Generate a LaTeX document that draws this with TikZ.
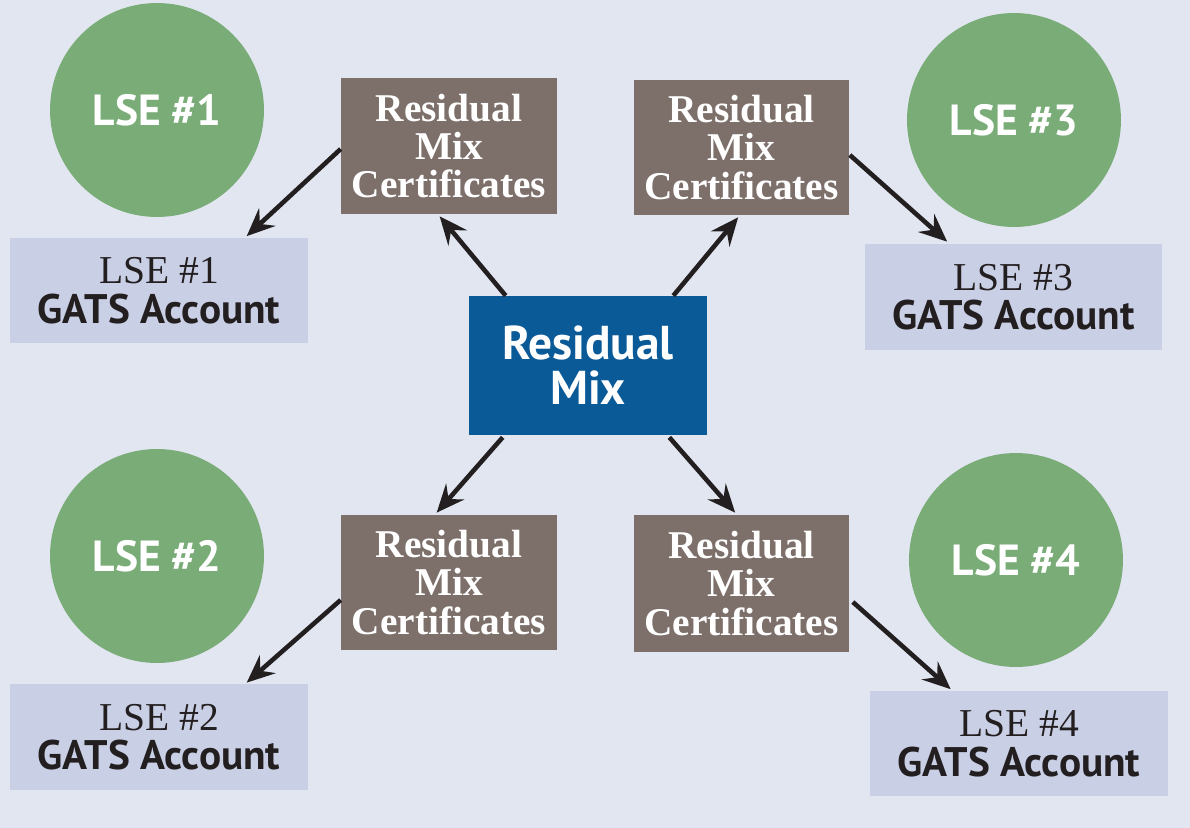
\documentclass[tikz,border=0pt]{standalone}
\usepackage{fontspec}
\setmainfont{Liberation Serif}
\setsansfont{PT Sans}
\usetikzlibrary{calc,arrows.meta}
\definecolor{bgcol}{HTML}{E2E6F1}
\definecolor{lsegreen}{HTML}{79AC77}
\definecolor{certbrown}{HTML}{7D706B}
\definecolor{mixblue}{HTML}{0B5A98}
\definecolor{acctcol}{HTML}{C9CFE5}
\definecolor{inkcol}{HTML}{231F20}
\newcommand{\gatsfont}{\fontsize{23.5}{22.5}\selectfont\sffamily\bfseries}
\begin{document}
\begin{tikzpicture}[x=0.02cm,y=-0.02cm]
\tikzset{lse/.style = {shape=circle,fill=lsegreen,text=white,inner sep=0pt,minimum size=4.28cm,
  font=\fontsize{24.8}{27}\selectfont\sffamily\bfseries}}
\tikzset{certbox/.style = {rectangle,fill=certbrown,text=white,inner sep=0pt,align=center,
  minimum width=4.32cm,minimum height=2.72cm,font=\fontsize{22.4}{21.8}\selectfont\bfseries}}
\tikzset{mixbox/.style = {rectangle,fill=mixblue,text=white,inner sep=0pt,align=center,
  minimum width=4.76cm,minimum height=2.78cm,font=\fontsize{27}{25.5}\selectfont\sffamily\bfseries}}
\tikzset{account/.style = {rectangle,fill=acctcol,text=inkcol,inner sep=0pt,align=center,
  minimum width=5.96cm,minimum height=2.12cm,font=\fontsize{22.5}{22.5}\selectfont}}
\tikzset{edge/.style = {-{Stealth[length=0.56cm,width=0.48cm,inset=0.2cm]},line width=2.6pt,draw=inkcol}}
\fill[bgcol] (0,0) rectangle (1190,828);
\useasboundingbox (0,0) rectangle (1190,828);
% entities
\node[lse] (c1) at (157,110) {LSE \#1};
\node[lse] (c3) at (1014,120) {LSE \#3};
\node[lse] (c2) at (157,556) {LSE \#2};
\node[lse] (c4) at (1016,560) {LSE \#4};
% certificates
\node[certbox] (r1) at (449,146) {Residual\\Mix\\Certificates};
\node[certbox,minimum height=2.7cm] (r3) at (741.5,147.5) {Residual\\Mix\\Certificates};
\node[certbox,minimum height=2.7cm] (r2) at (449,582.5) {Residual\\Mix\\Certificates};
\node[certbox,minimum height=2.74cm] (r4) at (741.5,583.5) {Residual\\Mix\\Certificates};
\node[mixbox] (mix) at (588,365.5) {Residual\\Mix};
% accounts
\node[account] (a1) at (159,290.5) {LSE \#1\\{\gatsfont GATS Account}};
\node[account] (a3) at (1013.5,297) {LSE \#3\\{\gatsfont GATS Account}};
\node[account] (a2) at (159,737) {LSE \#2\\{\gatsfont GATS Account}};
\node[account] (a4) at (1019,743.5) {LSE \#4\\{\gatsfont GATS Account}};
\draw[edge] ($(mix.north west)+(37,0)$) -- ($(r1.south west)+(99,2)$);
\draw[edge] ($(mix.north east)+(-34,0)$) -- ($(r3.south west)+(105,2)$);
\draw[edge] ($(mix.south west)+(34,2)$) -- ($(r2.north west)+(96,-2)$);
\draw[edge] ($(mix.south east)+(-38,2)$) -- ($(r4.north west)+(102,-2)$);
\draw[edge] ($(r1.west)+(0,3)$) -- ($(a1.north west)+(237,-1)$);
\draw[edge] ($(r3.east)+(0,7.5)$) -- ($(a3.north west)+(83,-2)$);
\draw[edge] ($(r2.west)+(0,17.5)$) -- ($(a2.north west)+(237,-1)$);
\draw[edge] ($(r4.east)+(3,18.5)$) -- ($(a4.north west)+(81,-1)$);
\end{tikzpicture}
\end{document}
